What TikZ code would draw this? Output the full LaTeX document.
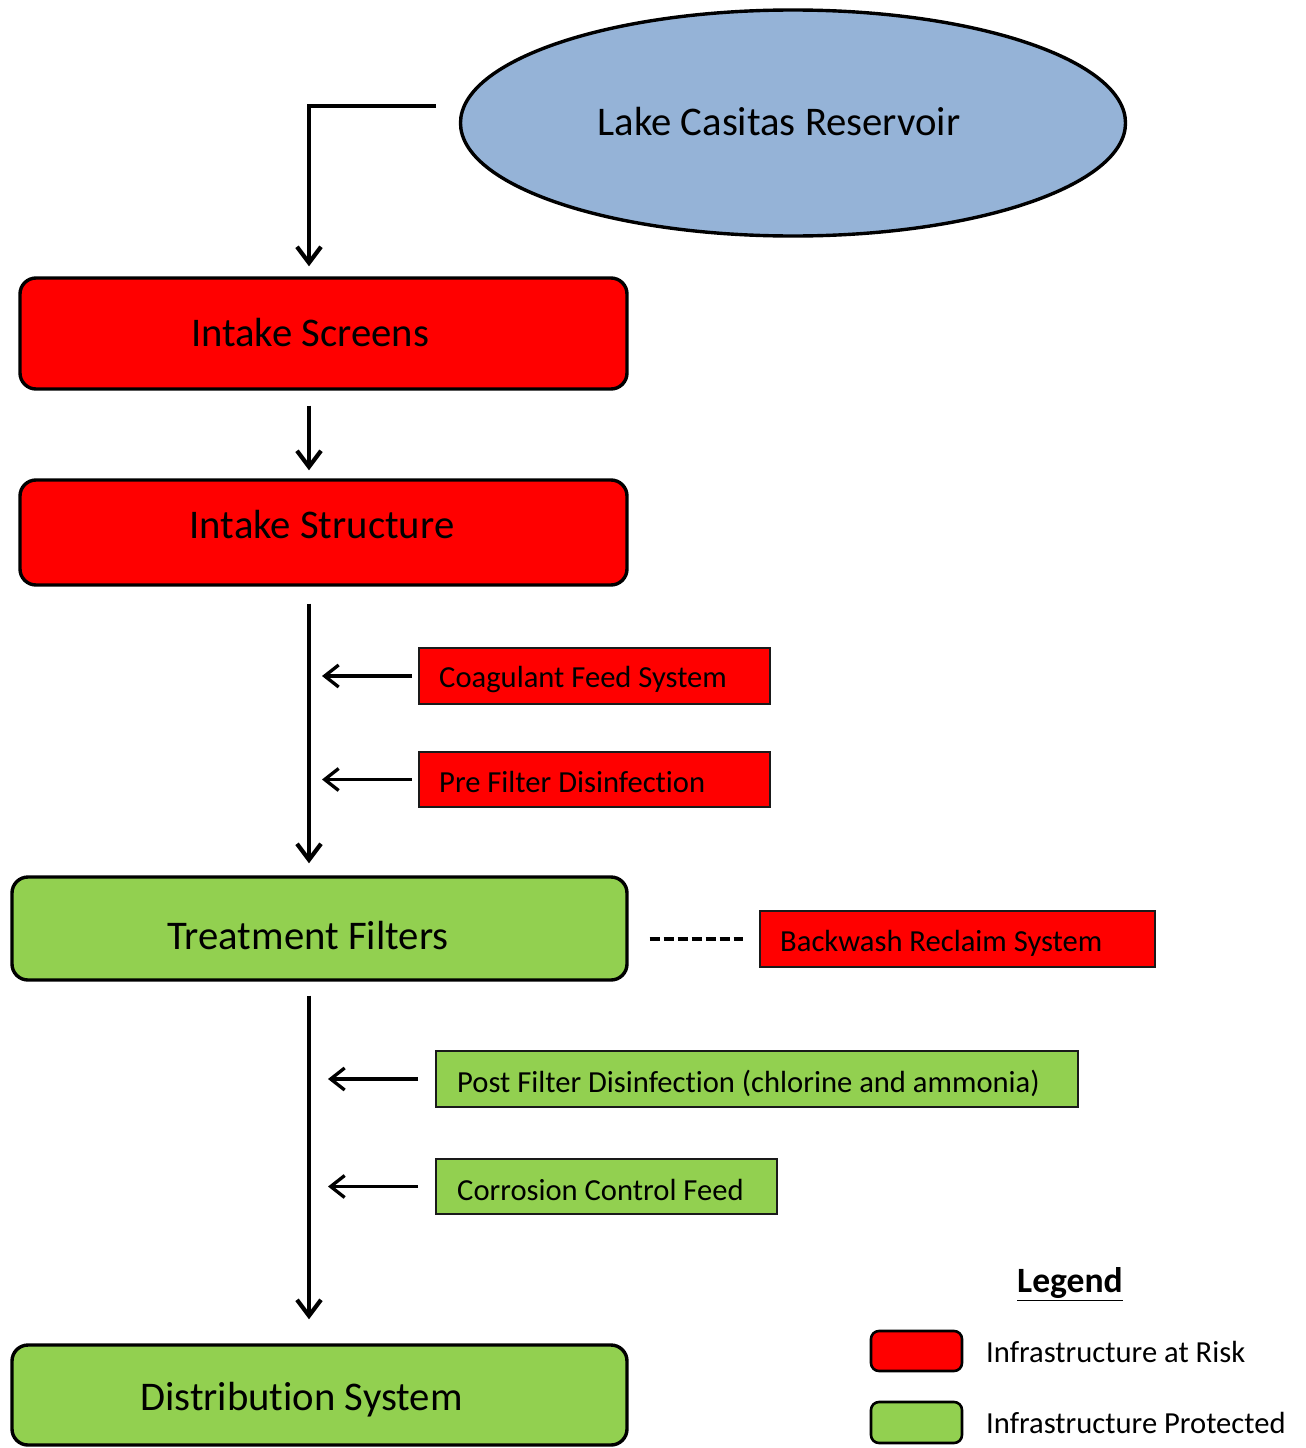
\documentclass[tikz,border=0pt]{standalone}
\usepackage{fontspec}
\setmainfont{Carlito}[Ligatures={NoCommon}]
\usetikzlibrary{arrows.meta,shapes.geometric}
\definecolor{riskred}{HTML}{FF0000}
\definecolor{okgreen}{HTML}{92D050}
\definecolor{lakeblue}{HTML}{95B3D7}
\definecolor{thinborder}{HTML}{1A1A1A}
\tikzset{
  bigbox/.style={draw=black, line width=3.4pt, rounded corners=16pt, inner sep=0pt},
  smallbox/.style={draw=thinborder, line width=1.6pt, inner sep=0pt},
  legbox/.style={draw=black, line width=2.6pt, rounded corners=8pt, inner sep=0pt, minimum width=91pt},
  bigtext/.style={font=\fontsize{40.7}{48}\selectfont, inner sep=0pt},
  smalltext/.style={font=\fontsize{30.6}{36}\selectfont, inner sep=0pt, anchor=west},
  flow/.style={line width=4.5pt, -{Straight Barb[length=16pt,width=24pt,line width=4.2pt]}},
  feed/.style={line width=3.3pt, -{Straight Barb[length=14pt,width=22pt,line width=3.3pt]}},
}
\begin{document}
\begin{tikzpicture}[x=1pt,y=-1pt]
\useasboundingbox (0,0) rectangle (1306,1448);
\coordinate (spine) at (309,0);

% lake
\node[ellipse, draw=black, line width=3.4pt, fill=lakeblue, minimum width=665pt, minimum height=226pt, inner sep=0pt] (lake) at (793,123) {};
\node[bigtext] (laketxt) at (779,122) {Lake Casitas Reservoir};

% main boxes
\node[bigbox, fill=riskred, minimum width=607pt, minimum height=111pt] (screens) at (323.5,333.5) {};
\node[bigtext] (screenstxt) at (310,333) {Intake Screens};

\node[bigbox, fill=riskred, minimum width=607pt, minimum height=105pt] (structure) at (323.5,532.5) {};
\node[bigtext] (structuretxt) at (322,525) {Intake Structure};

\node[bigbox, fill=okgreen, minimum width=615pt, minimum height=103pt] (filters) at (319.5,928.5) {};
\node[bigtext] (filterstxt) at (308,936) {Treatment Filters};

\node[bigbox, fill=okgreen, minimum width=615pt, minimum height=100pt] (dist) at (319.5,1395) {};
\node[bigtext] (disttxt) at (301.5,1400) {Distribution System};

% side boxes
\node[smallbox, fill=riskred, minimum width=351pt, minimum height=56pt] (coag) at (594.5,676) {};
\node[smalltext] (coagtxt) at (439,679) {Coagulant Feed System};

\node[smallbox, fill=riskred, minimum width=351pt, minimum height=55pt] (pre) at (594.5,779.5) {};
\node[smalltext] (pretxt) at (439,782) {Pre Filter Disinfection};

\node[smallbox, fill=riskred, minimum width=395pt, minimum height=56pt] (backwash) at (957.5,939) {};
\node[smalltext] (backwashtxt) at (780,943) {Backwash Reclaim System};

\node[smallbox, fill=okgreen, minimum width=642pt, minimum height=56pt] (post) at (757,1079) {};
\node[smalltext] (posttxt) at (457,1083) {Post Filter Disinfection (chlorine and ammonia)};

\node[smallbox, fill=okgreen, minimum width=341pt, minimum height=55pt] (corr) at (606.5,1186.5) {};
\node[smalltext] (corrtxt) at (457,1190) {Corrosion Control Feed};

% connectors
\coordinate (lakeout) at (436,106);
\draw[flow] (lakeout) -| ([yshift=10pt]screens.north -| spine);
\draw[flow, shorten <=15pt, shorten >=8pt] (screens.south -| spine) -- (structure.north -| spine);
\draw[flow, shorten <=17pt, shorten >=12pt] (structure.south -| spine) -- (filters.north -| spine);
\draw[flow, shorten <=14pt, shorten >=24pt] (filters.south -| spine) -- (dist.north -| spine);

\draw[feed, shorten <=6pt, shorten >=13pt] (coag.west) -- (coag.west -| spine);
\draw[feed, shorten <=6pt, shorten >=13pt] (pre.west) -- (pre.west -| spine);
\draw[feed, shorten <=17pt, shorten >=19pt] (post.west) -- (post.west -| spine);
\draw[feed, shorten <=17pt, shorten >=19pt] (corr.west) -- (corr.west -| spine);

\draw[line width=4pt, dash pattern=on 10pt off 4pt, shorten <=21pt, shorten >=16pt] (filters.east |- backwash.west) -- (backwash.west);

% legend
\node[font=\fontsize{35.6}{42}\selectfont\bfseries, inner sep=0pt] (legtitle) at (1070,1284) {\underline{Legend}};
\node[legbox, fill=riskred, minimum height=40pt] (legrisk) at (916.5,1351) {};
\node[smalltext] (legrisktxt) at (986,1352) {Infrastructure at Risk};
\node[legbox, fill=okgreen, minimum height=41pt] (legok) at (916.5,1422.5) {};
\node[smalltext] (legoktxt) at (986,1423) {Infrastructure Protected};
\end{tikzpicture}
\end{document}
